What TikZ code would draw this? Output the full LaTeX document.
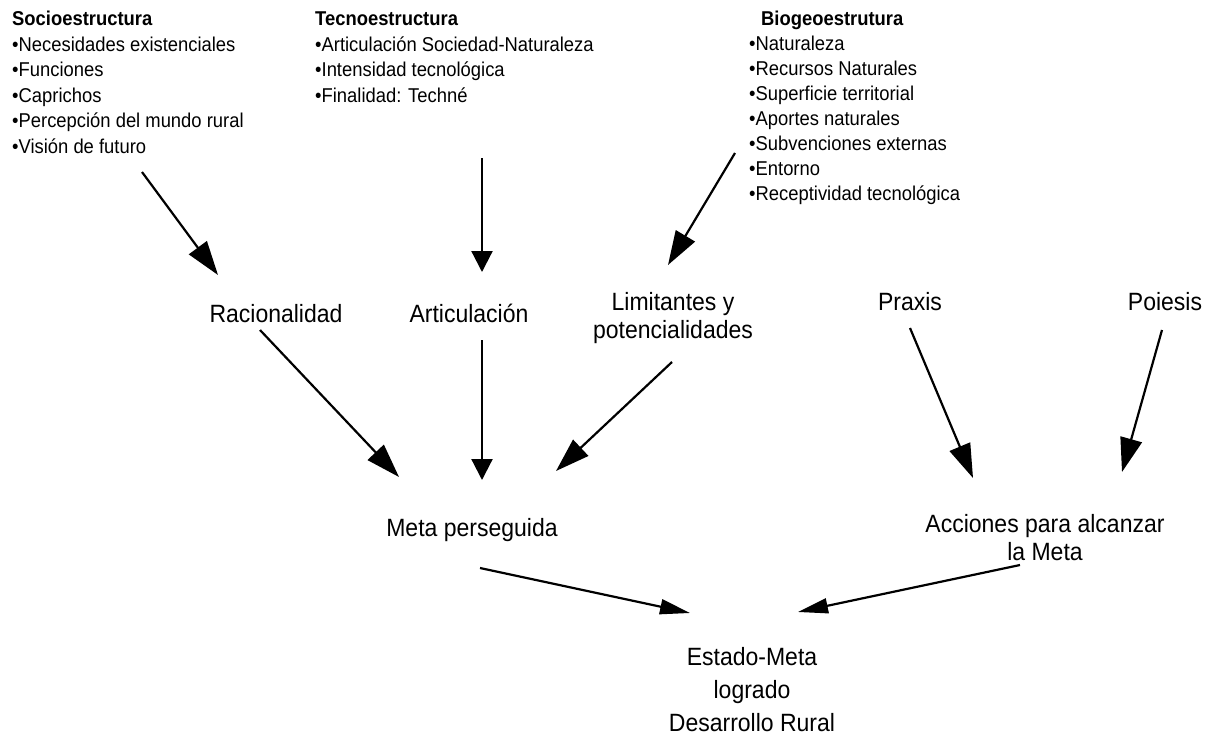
\documentclass[tikz,border=0pt]{standalone}
\usepackage{fontspec}
\setmainfont{Liberation Sans}[FakeStretch=0.92]
\usepackage{tikz}
\usetikzlibrary{arrows.meta,calc}

\begin{document}
\begin{tikzpicture}[x=1pt,y=-1pt,
  bloque/.style={anchor=base west,align=left,inner sep=0pt,font=\fontsize{20}{25.5}\selectfont},
  etiq/.style={anchor=base,align=center,inner sep=0pt,font=\fontsize{25}{28}\selectfont},
  flecha/.style={-{Triangle[length=34pt,width=22pt]},line width=2.2pt},
  flechacorta/.style={-{Triangle[length=21pt,width=21pt]},line width=2.2pt},
  flechabaja/.style={-{Triangle[length=30pt,width=15pt]},line width=2.2pt}]
\useasboundingbox (0,0) rectangle (1211,737);
% bloques de arriba (anclados en la linea base de la ultima fila)
\node[bloque] (socio) at (12,153) {\textbf{Socioestructura}\\•Necesidades existenciales\\•Funciones\\•Caprichos\\•Percepción del mundo rural\\•Visión de futuro};
\node[bloque] (tecno) at (315,102) {\textbf{Tecnoestructura}\\•Articulación Sociedad-Naturaleza\\•Intensidad tecnológica\\•Finalidad: Techné};
\node[bloque,font=\fontsize{20}{25}\selectfont] (bio) at (749,200) {\hspace*{12pt}\textbf{Biogeoestrutura}\\•Naturaleza\\•Recursos Naturales\\•Superficie territorial\\•Aportes naturales\\•Subvenciones externas\\•Entorno\\•Receptividad tecnológica};
% fila del medio
\node[etiq] (racio) at (276,322) {Racionalidad};
\node[etiq] (artic) at (469,322) {Articulación};
\node[etiq] (limit) at (673,338) {Limitantes y\\potencialidades};
\node[etiq] (praxis) at (910,310) {Praxis};
\node[etiq] (poiesis) at (1165,310) {Poiesis};
% abajo
\node[etiq] (meta) at (472,536) {Meta perseguida};
\node[etiq] (acciones) at (1045,560) {Acciones para alcanzar\\la Meta};
\node[etiq,font=\fontsize{25}{33}\selectfont] (estado) at (752,731) {Estado-Meta\\logrado\\Desarrollo Rural};
% flechas
\draw[flecha] ([shift={(130,19)}]socio.base west) -- ([shift={(-58,-47)}]racio.base);
\draw[flechacorta] ([shift={(167,56)}]tecno.base west) -- ([shift={(13,-50)}]artic.base);
\draw[flecha] ([shift={(-14,-47)}]bio.base west) -- ([shift={(-5,-73)}]limit.base);
\draw[flecha] ([shift={(-16,8)}]racio.base) -- ([shift={(-73,-59)}]meta.base);
\draw[flechacorta] ([shift={(13,18)}]artic.base) -- ([shift={(10,-56)}]meta.base);
\draw[flecha] ([shift={(-1,24)}]limit.base) -- ([shift={(84,-65)}]meta.base);
\draw[flecha] ([shift={(0,18)}]praxis.base) -- ([shift={(-72,-82)}]acciones.base);
\draw[flecha] ([shift={(-3,20)}]poiesis.base) -- ([shift={(77,-88)}]acciones.base);
\draw[flechabaja] ([shift={(8,32)}]meta.base) -- ([shift={(-62,-118)}]estado.base);
\draw[flechabaja] ([shift={(-25,5)}]acciones.base) -- ([shift={(46,-119)}]estado.base);
\end{tikzpicture}
\end{document}
